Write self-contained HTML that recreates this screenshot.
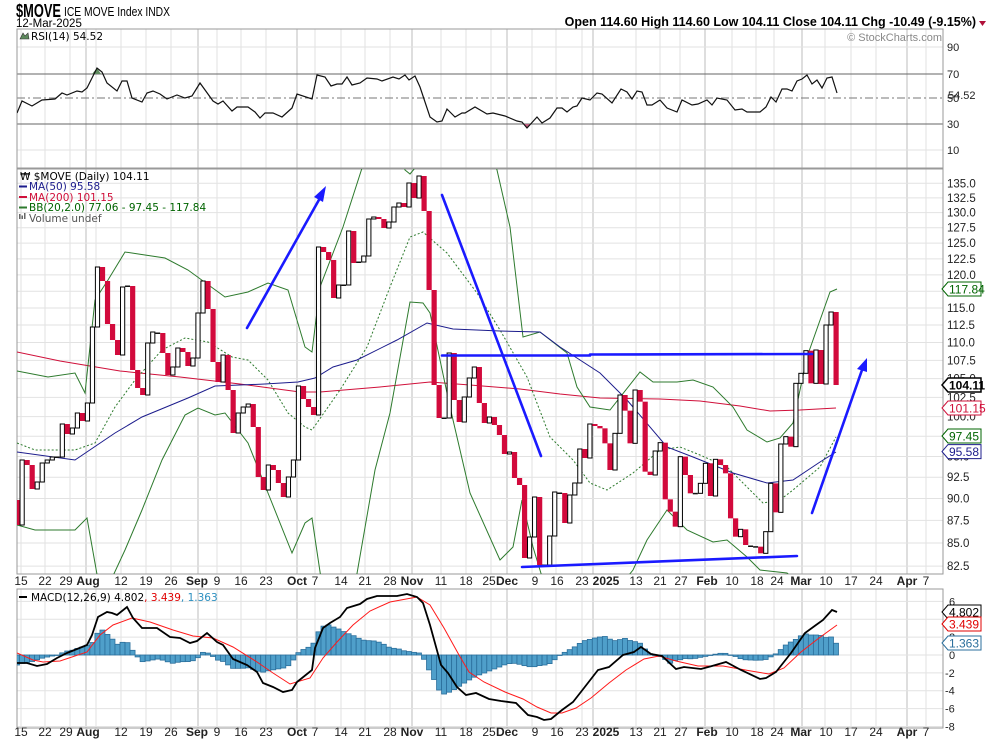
<!DOCTYPE html>
<html><head><meta charset="utf-8">
<style>
html,body{margin:0;padding:0;background:#fff;}
svg{display:block;}
text{font-family:"Liberation Sans",Arial,sans-serif;}
.lg{font-family:"DejaVu Sans","Liberation Sans",sans-serif;font-size:10.5px;}
</style></head>
<body>
<svg id="c" width="990" height="744" xmlns="http://www.w3.org/2000/svg">
<defs>
<clipPath id="cp"><rect x="17" y="169" width="926" height="405"/></clipPath>
<clipPath id="cr"><rect x="17" y="29" width="926" height="139"/></clipPath>
<clipPath id="cm"><rect x="17" y="589" width="926" height="139"/></clipPath>
</defs>
<g id="g"></g>
</svg>
<script>
var NS="http://www.w3.org/2000/svg",G=document.getElementById('g');
function el(t,a,p){var e=document.createElementNS(NS,t);for(var k in a)e.setAttribute(k,a[k]);(p||G).appendChild(e);return e;}
function tx(x,y,s,a){var e=el('text',Object.assign({x:x,y:y},a||{}));e.textContent=s;return e;}
function pl(pts,a,p){return el('polyline',Object.assign({points:pts.map(function(q){return q[0]+','+q[1]}).join(' '),fill:'none'},a),p);}
var L=17,R=943;
var minor=[21,45,70,96,121,146,171,217,241,266,315,341,365,390,441,466,491,532,556,582,636,660,680,732,756,774,825,851,876,926];
var major=[86,198,297,412,507,593,705,802,907];
var panels=[[29,168],[169,574],[589,728]];
panels.forEach(function(p){
 minor.forEach(function(x){el('line',{x1:x,x2:x,y1:p[0],y2:p[1],stroke:'#e2e2e2','stroke-width':1});});
 major.forEach(function(x){el('line',{x1:x,x2:x,y1:p[0],y2:p[1],stroke:'#bdbdbd','stroke-width':1});});
});
function py(v){return 183.3+1790*Math.log10(135/v);}
for(var v=82.5;v<=135.01;v+=2.5){var y=py(v);el('line',{x1:L,x2:R,y1:y,y2:y,stroke:'#e2e2e2'});tx(947,y+4,v.toFixed(1),{'font-size':'11.5px',fill:'#222'});}
[[47,'90'],[74,'70'],[98,'50'],[124,'30'],[150,'10']].forEach(function(r){
 var st={x1:L,x2:R,y1:r[0],y2:r[0],stroke:'#e2e2e2'};
 if(r[1]=='70'||r[1]=='30'){st.stroke='#666';}
 if(r[1]=='50'){st.stroke='#777';st['stroke-dasharray']='8,3,2,3';}
 el('line',st);tx(947,r[0]+4,r[1],{'font-size':'11px',fill:'#222'});
});
function my(v){return 655-v*8.93;}
[6,4,2,0,-2,-4,-6,-8].forEach(function(v){var y=my(v);el('line',{x1:L,x2:R,y1:y,y2:y,stroke:'#e2e2e2'});tx(v<0?945:949,y+4,String(v),{'font-size':'11px',fill:'#222'});});
panels.forEach(function(p){el('rect',{x:L,y:p[0],width:R-L,height:p[1]-p[0],fill:'none',stroke:'#999'});});
var rsi=[[17,113],[22,101],[32,106],[42,100],[55,99],[62,93],[67,95],[77,91],[82,92],[87,88],[97,68],[102,72],[107,83],[117,91],[122,81],[127,81],[132,98],[142,102],[147,93],[153,91],[160,94],[167,99],[177,95],[185,98],[192,96],[200,83],[213,101],[218,104],[223,101],[232,111],[237,107],[248,107],[255,112],[260,118],[265,113],[273,113],[282,117],[292,108],[297,94],[312,99],[317,75],[325,77],[331,86],[337,84],[342,84],[347,77],[352,85],[360,83],[367,78],[377,79],[382,81],[393,77],[399,79],[405,75],[409,80],[415,76],[420,87],[430,117],[437,122],[442,121],[447,109],[455,117],[462,113],[465,113],[475,107],[487,114],[493,113],[505,116],[517,121],[522,122],[527,128],[537,117],[542,123],[550,118],[557,108],[562,108],[567,112],[573,107],[577,106],[582,98],[590,100],[597,93],[602,94],[612,103],[621,89],[627,92],[632,99],[637,91],[642,92],[647,105],[652,105],[660,100],[667,108],[677,112],[682,100],[692,105],[698,104],[707,100],[712,105],[717,98],[727,100],[735,110],[742,109],[747,112],[760,112],[766,107],[771,97],[776,102],[782,89],[787,89],[792,91],[797,81],[802,79],[807,75],[812,84],[817,80],[822,88],[827,78],[832,77],[837,93]];
el('polygon',{points:'92,74 97,68 101,74',fill:'#5d8a5d'});
el('polygon',{points:'524,124 527,128 530,124',fill:'#c06080'});
pl(rsi,{stroke:'#111','stroke-width':1.2,'clip-path':'url(#cr)'});
var A=[525,460,465,489,482,463,460,457,457,424,434,428,413,421,403,327,267,281,324,340,355,287,286,370,388,395,343,332,333,353,375,367,348,352,366,358,313,281,309,362,382,355,390,433,413,407,404,427,477,490,465,470,483,497,477,460,386,399,407,415,247];
var B=[252,260,298,285,285,231,263,262,256,219,217,219,228,222,207,203,207,183,198,176,211,290,385,418,418,353,400,422,397,378,367,403,423,417,425,435,454,452,478,485,558,537,497,565,565,536,492,493,523,495,483,449,458,424];
var C=[258,265,310,390,280,165,212,310,150,185,395,405,333,308,478,515,560,350,405,460,460,430,370,468,358,375,400,535,590,568,615,618,620,640,575,430,517,312,290,320,130,100,32,130].map(function(z){return 340+z/3;});
var D=[350,384,325,312,385];
var cl=A.concat(B,C,D),N=cl.length,st=(836-17)/(N-1);
var gp=el('g',{'clip-path':'url(#cp)'});
var ma200=[[17,352],[60,361],[120,371],[180,377],[240,384],[300,392],[320,392],[380,387],[430,382],[470,385],[520,389],[560,394],[600,398],[660,399],[700,401],[740,406],[770,411],[800,410],[836,408]];
var ma50=[[17,452],[75,460],[115,433],[142,417],[188,398],[215,386],[265,384],[298,382],[315,378],[333,367],[357,360],[397,340],[427,323],[453,329],[500,331],[540,332],[560,347],[600,373],[627,400],[667,447],[693,457],[733,473],[767,483],[793,480],[820,462],[836,452]];
var bbu=[[17,371],[48,377],[75,373],[85,393],[95,300],[108,280],[125,252],[165,258],[188,270],[225,297],[248,292],[268,283],[288,290],[305,347],[312,352],[320,287],[343,227],[363,165],[380,120],[395,130],[405,170],[410,174],[415,168],[430,110],[480,120],[497,170],[510,227],[523,337],[540,332],[567,353],[577,387],[590,407],[610,410],[640,372],[653,382],[677,382],[693,380],[713,387],[733,407],[747,430],[767,442],[780,438],[793,423],[807,357],[830,292],[837,289]];
var bbl=[[17,525],[35,530],[75,530],[87,518],[98,580],[112,578],[125,550],[142,510],[162,460],[185,415],[198,408],[215,415],[225,413],[248,443],[268,493],[292,553],[305,523],[312,518],[316,545],[322,585],[355,585],[375,470],[390,413],[410,302],[423,303],[430,313],[450,407],[470,493],[500,560],[513,547],[522,500],[533,547],[543,580],[625,580],[633,570],[647,540],[667,510],[687,530],[713,542],[727,540],[747,557],[760,570],[787,573],[800,585]];
var bbm=[[17,443],[35,450],[75,450],[95,443],[115,407],[135,380],[162,350],[185,338],[208,342],[232,357],[248,360],[268,380],[288,413],[305,427],[312,430],[340,390],[367,347],[390,287],[410,237],[423,232],[447,253],[477,293],[500,330],[527,377],[550,437],[573,460],[590,483],[607,490],[633,473],[660,450],[680,447],[700,455],[727,467],[747,487],[763,503],[780,500],[793,490],[820,467],[836,437]];
pl(ma200,{stroke:'#d0103a','stroke-width':1},gp);
pl(bbu,{stroke:'#2d7a2d','stroke-width':1},gp);
pl(bbl,{stroke:'#2d7a2d','stroke-width':1},gp);
pl(bbm,{stroke:'#2d7a2d','stroke-width':1,'stroke-dasharray':'2,2'},gp);
pl(ma50,{stroke:'#1c1c8c','stroke-width':1},gp);
var prev=500;
for(var i=0;i<N;i++){var x=14.5+i*st,c=cl[i],t=Math.min(prev,c),h=Math.abs(prev-c);
 if(h<1.5){el('rect',{x:x,y:c-0.5,width:5,height:1.5,fill:'#111'},gp);}
 else if(c<prev){el('rect',{x:x+0.5,y:t,width:4.2,height:h,fill:'#fff',stroke:'#000','stroke-width':1},gp);}
 else{el('rect',{x:x,y:t,width:5.2,height:h,fill:'#d20a3c'},gp);}
 prev=c;}
var bl={stroke:'#1a1aff','stroke-width':2.6,'stroke-linecap':'round'};
el('line',Object.assign({x1:247,y1:328,x2:320,y2:198},bl),gp);
el('polygon',{points:'326,186 314,197 323,202',fill:'#1a1aff'},gp);
el('line',Object.assign({x1:442,y1:195,x2:541,y2:456},bl),gp);
el('line',Object.assign({x1:442,y1:355.5,x2:590,y2:355.5},bl),gp);
el('line',Object.assign({x1:590,y1:354.5,x2:812,y2:354},bl),gp);
el('line',Object.assign({x1:522,y1:567,x2:797,y2:556},bl),gp);
el('line',Object.assign({x1:812,y1:513,x2:862,y2:370},bl),gp);
el('polygon',{points:'867,358 857,369 867,372',fill:'#1a1aff'},gp);
var gm=el('g',{'clip-path':'url(#cm)'});
var h7=[[50,240],[65,232],[80,232],[95,228],[110,222],[125,218],[140,215],[155,212],[170,210],[185,200],[200,197],[215,195],[230,188],[245,185],[260,178],[275,170],[285,145],[300,135],[315,148],[330,162],[345,178],[360,172],[375,172],[390,195],[405,215],[420,230],[435,228],[450,225],[465,222],[480,225],[495,230],[510,235],[525,232],[540,230],[555,230],[570,228],[585,220],[600,202],[615,203],[630,213],[645,225],[660,228],[675,238],[690,250],[705,250],[720,250],[735,248],[750,252],[765,258],[780,262],[795,258],[810,255],[825,252],[840,250],[855,245],[870,230],[885,205],[900,195],[915,188],[930,183],[945,145],[960,125],[975,118],[990,125],[1005,130],[1020,138],[1035,145],[1050,150],[1065,158],[1080,165],[1095,167],[1110,167],[1125,170],[1140,175],[1155,185],[1170,190],[1185,190],[1200,197],[1215,198],[1230,203],[1245,200],[1260,212],[1275,245]].map(function(p){return [(p[0]+7)/3,585+p[1]/3];});
var h8=[[12,285],[32,330],[60,319],[87,300],[102,290],[117,280],[137,270],[157,262],[172,255],[190,248],[207,240],[225,235],[242,235],[257,240],[277,245],[297,245],[312,240],[327,240],[342,232],[357,215],[370,205],[382,200],[397,190],[412,182],[427,168],[442,165],[457,160],[472,157],[487,153],[500,160],[512,168],[527,165],[547,160],[567,170],[582,170],[595,180],[607,200],[622,210],[640,212],[657,222],[672,235],[687,226],[702,224],[717,220],[735,222],[752,218],[767,215],[782,212],[797,208],[812,205],[827,205],[842,210],[857,215],[872,222],[887,225],[902,225],[917,226],[932,225],[947,222],[960,210],[972,205],[987,188],[1002,175],[1017,168],[1032,158],[1047,145],[1062,150],[1077,150],[1092,150],[1107,158],[1122,155],[1137,175]].map(function(p){return [430+p[0]/2.8,585+p[1]/3];});
var hp=h7.concat(h8);
function interp(arr,x){if(x<=arr[0][0])return arr[0][1];for(var k=1;k<arr.length;k++){if(arr[k][0]>=x){var a=arr[k-1],b=arr[k];return a[1]+(b[1]-a[1])*(x-a[0])/(b[0]-a[0]);}}return arr[arr.length-1][1];}
for(var i=0;i<N;i++){var x=17+i*st,y=interp(hp,x),t=Math.min(y,655),h=Math.abs(y-655);
 el('rect',{x:x-2.5,y:t,width:5,height:Math.max(h,0.5),fill:'#4f9fca',stroke:'#2b6f9c','stroke-width':0.8},gm);}
var mk=[[17,663],[27,663],[37,666],[47,664],[57,658],[67,653],[77,649],[87,645],[92,635],[98,617],[107,612],[112,613],[117,615],[127,607],[133,618],[142,628],[157,628],[170,637],[180,638],[190,643],[197,641],[207,633],[217,642],[223,645],[233,659],[247,665],[257,672],[263,683],[273,687],[283,692],[292,690],[297,682],[312,670],[315,648],[323,628],[330,623],[340,617],[347,608],[360,604],[367,599],[377,596],[397,596],[407,594],[417,597],[423,603],[430,625],[441,665],[448,673],[457,687],[466,695],[476,693],[489,699],[501,701],[516,703],[528,715],[537,717],[544,720],[551,719],[562,710],[573,702],[584,688],[598,670],[609,667],[623,655],[634,652],[641,647],[651,654],[662,656],[676,669],[684,667],[701,669],[712,666],[726,662],[741,670],[760,679],[766,678],[776,672],[791,653],[805,633],[816,625],[823,620],[832,610],[837,612]];
var sg=[[17,653],[33,660],[43,662],[60,661],[87,652],[100,635],[113,625],[132,618],[150,622],[173,630],[193,636],[213,638],[233,647],[257,662],[273,673],[290,684],[310,678],[323,658],[337,642],[353,625],[370,611],[390,602],[417,597],[430,605],[444,628],[459,655],[469,672],[484,682],[505,692],[523,699],[537,707],[551,713],[562,713],[576,708],[591,698],[609,683],[626,670],[644,659],[659,656],[676,661],[698,666],[723,666],[751,671],[769,674],[784,668],[801,652],[819,638],[837,625]];
pl(sg,{stroke:'#ff1a1a','stroke-width':1},gm);
pl(mk,{stroke:'#000','stroke-width':1.8},gm);
function badge(y,s,col,bold){el('polygon',{points:'942,'+y+' 948,'+(y-7)+' 981,'+(y-7)+' 981,'+(y+7)+' 948,'+(y+7),fill:'#fff',stroke:col,'stroke-width':bold?1.5:1});
 tx(949,y+4.5,s,{'font-size':'12px',fill:col,'font-weight':bold?'bold':'normal'});}
badge(289,'117.84','#006400');badge(385,'104.11','#000',true);badge(408,'101.15','#d0103a');badge(436,'97.45','#006400');badge(451.6,'95.58','#1c1c8c');
badge(612,'4.802','#000');badge(624,'3.439','#e00000');badge(643,'1.363','#2b6f9c');
tx(948,99,'54.52',{'font-size':'11px',fill:'#222'});
var dl=[[21,'15'],[45,'22'],[66,'29'],[88,'Aug',1],[121,'12'],[146,'19'],[171,'26'],[197,'Sep',1],[217,'9'],[241,'16'],[266,'23'],[297,'Oct',1],[315,'7'],[341,'14'],[365,'21'],[390,'28'],[412,'Nov',1],[441,'11'],[466,'18'],[489,'25'],[507,'Dec',1],[535,'9'],[557,'16'],[582,'23'],[606,'2025',1],[636,'13'],[660,'21'],[681,'27'],[707,'Feb',1],[732,'10'],[757,'18'],[777,'24'],[801,'Mar',1],[826,'10'],[851,'17'],[876,'24'],[907,'Apr',1],[926,'7']];
[585,736].forEach(function(yy){dl.forEach(function(d){tx(d[0],yy,d[1],{'font-size':'12px','text-anchor':'middle',fill:'#222','font-weight':d[2]?'bold':'normal'});});});
tx(16,17,'$MOVE',{'font-size':'18px','font-weight':'bold',fill:'#000',textLength:'45',lengthAdjust:'spacingAndGlyphs'});
tx(64,16,'ICE MOVE Index  INDX',{'font-size':'12.5px',fill:'#000',textLength:'106',lengthAdjust:'spacingAndGlyphs'});
tx(16,27,'12-Mar-2025',{'font-size':'11.5px',fill:'#000'});
tx(976,26,'Open 114.60  High 114.60  Low 104.11  Close 104.11  Chg -10.49 (-9.15%)',{'font-size':'12.5px','font-weight':'bold',fill:'#000','text-anchor':'end'});
el('polygon',{points:'979,21 986,21 982.5,26',fill:'#b0103a'});
tx(942,41,'© StockCharts.com',{'font-size':'11px',fill:'#888','text-anchor':'end'});
el('polygon',{points:'20,39 23,33 25,36 28,33 29,39',fill:'#5d8a5d',stroke:'#333','stroke-width':0.6});
tx(31,40,'RSI(14) 54.52',{'class':'lg',fill:'#000'});
tx(20,180,'₩ $MOVE (Daily) 104.11',{'class':'lg',fill:'#000'});
el('line',{x1:19,x2:27,y1:186.5,y2:186.5,stroke:'#1c1c8c','stroke-width':2});tx(29,190,'MA(50) 95.58',{'class':'lg',fill:'#1c1c8c'});
el('line',{x1:19,x2:27,y1:197,y2:197,stroke:'#d0103a','stroke-width':2});tx(29,201,'MA(200) 101.15',{'class':'lg',fill:'#d0103a'});
el('line',{x1:19,x2:27,y1:207.5,y2:207.5,stroke:'#2d7a2d','stroke-width':2});tx(29,211,'BB(20,2.0) 77.06 - 97.45 - 117.84',{'class':'lg',fill:'#006400'});
el('rect',{x:19,y:214,width:1.5,height:5,fill:'#666'});el('rect',{x:21.5,y:215.5,width:1.5,height:3.5,fill:'#666'});el('rect',{x:24,y:213,width:1.5,height:6,fill:'#666'});
tx(29,222,'Volume undef',{'class':'lg',fill:'#555'});
el('line',{x1:19,x2:27,y1:597,y2:597,stroke:'#000','stroke-width':2});
var mt=tx(31,601,'',{'class':'lg'});
[['MACD(12,26,9) 4.802','#000'],[', 3.439','#e00000'],[', 1.363','#2b8fc0']].forEach(function(s){var t=document.createElementNS(NS,'tspan');t.setAttribute('fill',s[1]);t.textContent=s[0];mt.appendChild(t);});
</script>
</body></html>
